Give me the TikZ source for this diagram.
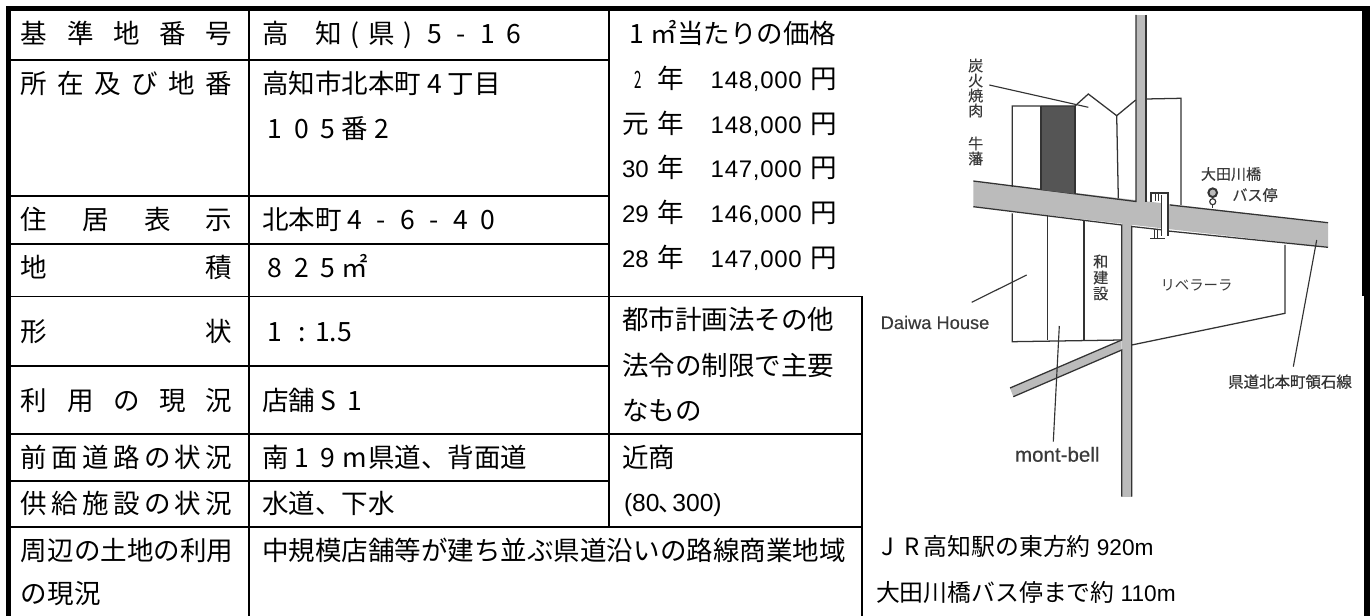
\documentclass[tikz,border=0pt]{standalone}
\usepackage{fontspec}
\setmainfont{Noto Sans CJK JP}
\newfontfamily\latf[LetterSpace=3]{Liberation Sans}
\newfontfamily\latg{Liberation Sans}
\newfontfamily\semij[FakeBold=0.6]{Noto Sans CJK JP}
\newfontfamily\lightbold[FakeBold=0.25]{Noto Sans CJK JP}
\newfontfamily\latbold[FakeBold=0.25]{Liberation Sans}
\newcommand\J{\fontsize{19.9pt}{24pt}\selectfont}
\newcommand\fw[1]{\makebox[1em][c]{#1}}
\newcommand\jdist[1]{\makebox[158.5pt][s]{#1}}
\newcommand\yearbox[1]{\makebox[26.25pt][l]{#1}}
\newcommand\amount[1]{\hspace{20.4pt}\makebox[75pt][l]{\fontsize{18pt}{24pt}\selectfont\latf #1}}
\newcommand\narrowtwo{\hspace{9.5pt}\scalebox{.5}[.9]{2}}
\definecolor{roadgray}{HTML}{BBBBBB}
\definecolor{edgegray}{HTML}{333333}
\definecolor{labelgray}{HTML}{3A3A3A}
\definecolor{darklot}{HTML}{555555}
\tikzset{
  x=0.75pt,y=-0.75pt,
  cell/.style={inner sep=0pt,outer sep=0pt,anchor=base west,font=\J,text=black,yshift=-0.75pt},
  rule/.style={line width=1.3pt,black},
  maptext/.style={inner sep=0pt,outer sep=0pt,anchor=center,text=labelgray,font=\fontsize{11.3pt}{12pt}\selectfont\lightbold,align=center},
  mapline/.style={line width=0.95pt,edgegray},
  leader/.style={line width=0.85pt,edgegray},
  road/.style={fill=roadgray,draw=none},
  noteJ/.style={inner sep=0pt,outer sep=0pt,anchor=base west,text=black,font=\fontsize{17.9pt}{22pt}\selectfont}
}
\begin{document}
\begin{tikzpicture}
\useasboundingbox (0,0) rectangle (1370,616);
\fill[white] (0,0) rectangle (1370,616);
% outer frame
\fill[black] (6,6) rectangle (1370,11);
\fill[black] (6,6) rectangle (11,616);
\fill[black] (1362,6) rectangle (1370,296);
\fill[black] (1364,296) rectangle (1370,616);
% table rules
\draw[rule] (248.7,11) -- (248.7,616);
\draw[rule] (609,11) -- (609,527);
\draw[rule] (861.8,296.5) -- (861.8,616);
\foreach \yy in {60,196,244,366,481} \draw[rule] (11,\yy) -- (609,\yy);
\foreach \yy in {296.5,434,527} \draw[rule] (11,\yy) -- (861.8,\yy);
% first column
\node[cell] (a1) at (21,42.5) {\jdist{基\hfil 準\hfil 地\hfil 番\hfil 号}};
\node[cell] (a2) at (21,92.5) {\jdist{所\hfil 在\hfil 及\hfil び\hfil 地\hfil 番}};
\node[cell] (a3) at (21,229) {\jdist{住\hfil 居\hfil 表\hfil 示}};
\node[cell] (a4) at (21,277) {\jdist{地\hfil 積}};
\node[cell] (a5) at (21,340.5) {\jdist{形\hfil 状}};
\node[cell] (a6) at (21,409) {\jdist{利\hfil 用\hfil の\hfil 現\hfil 況}};
\node[cell] (a7) at (21,466.5) {\jdist{前\hfil 面\hfil 道\hfil 路\hfil の\hfil 状\hfil 況}};
\node[cell] (a8) at (21,512.5) {\jdist{供\hfil 給\hfil 施\hfil 設\hfil の\hfil 状\hfil 況}};
\node[cell] (a9) at (21,559) {\jdist{周\hfil 辺\hfil の\hfil 土\hfil 地\hfil の\hfil 利\hfil 用}};
\node[cell] (a10) at (21,602.5) {の現況};
% second column
\node[cell] (b1) at (262,42.5) {高　知\fw{(}県\fw{)}\fw{5}\fw{-}\fw{1}\fw{6}};
\node[cell] (b2) at (262,92.5) {高知市北本町\fw{4}丁目};
\node[cell] (b2b) at (262,137.5) {\fw{1}\fw{0}\fw{5}番\fw{2}};
\node[cell] (b3) at (262,229) {北本町\fw{4}\fw{-}\fw{6}\fw{-}\fw{4}\fw{0}};
\node[cell] (b4) at (262,277) {\fw{8}\fw{2}\fw{5}㎡};
\node[cell] (b5) at (262,340.5) {\fw{1}\fw{:}1.5};
\node[cell] (b6) at (262,409) {店舗\fw{S}\fw{1}};
\node[cell] (b7) at (262,466.5) {南\fw{1}\fw{9}\fw{m}県道、背面道};
\node[cell] (b8) at (262,512.5) {水道、下水};
\node[cell] (b9) at (262,559) {中規模店舗等が建ち並ぶ県道沿いの路線商業地域};
% third column
\node[cell] (c0) at (624,42.5) {\fw{1}㎡当たりの価格};
\node[cell] (c1) at (622,87.5) {\yearbox{\narrowtwo}年\amount{148,000}円};
\node[cell] (c2) at (622,132.5) {\yearbox{元}年\amount{148,000}円};
\node[cell] (c3) at (622,177) {\yearbox{\fontsize{18pt}{24pt}\selectfont\latg 30}年\amount{147,000}円};
\node[cell] (c4) at (622,222) {\yearbox{\fontsize{18pt}{24pt}\selectfont\latg 29}年\amount{146,000}円};
\node[cell] (c5) at (622,267) {\yearbox{\fontsize{18pt}{24pt}\selectfont\latg 28}年\amount{147,000}円};
\node[cell] (c6) at (622,329) {都市計画法その他};
\node[cell] (c7) at (622,374) {法令の制限で主要};
\node[cell] (c8) at (622,419) {なもの};
\node[cell] (c9) at (622,466.5) {近商};
\node[cell] (c10) at (624,510.5) {\fontsize{18.5pt}{24pt}\selectfont\latg (80\hspace{-1pt}{\fontfamily{\familydefault}\selectfont 、}\hspace{-8pt}300)};
% map: roads
\fill[road] (973.3,181) -- (1328,222.7) -- (1328,247.3) -- (973.3,206.7) -- cycle;
\fill[road] (1135.7,15) rectangle (1146,205);
\fill[road] (1121.7,220) rectangle (1131.7,496.7);
\fill[road] (1010,388) -- (1121.7,340) -- (1121.7,350) -- (1013.3,396.7) -- cycle;
% road edges
\draw[mapline] (973.3,181) -- (1136,201.5) -- (1136,15);
\draw[mapline] (1146,15) -- (1146,202);
\draw[mapline] (1170,205) -- (1328,222.7);
\draw[mapline] (973.3,206.7) -- (1121.7,225) -- (1121.7,340) -- (1010,388);
\draw[mapline] (1013.3,396.7) -- (1121.7,350) -- (1121.7,496.7);
\draw[mapline] (1131.7,496.7) -- (1131.7,226.5) -- (1168,230.5);
\draw[mapline] (1168,231) -- (1328,247.3);
% map: plots north
\fill[darklot] (1041,106) -- (1075,106) -- (1075,194) -- (1041,190) -- cycle;
\draw[mapline] (1012.3,187) -- (1012.3,106) -- (1075,106) -- (1088.3,94) -- (1116.7,115.7) -- (1135.7,100);
\draw[mapline] (1041,106) -- (1041,190);
\draw[mapline] (1075,106) -- (1075,194);
\draw[mapline] (1116.7,115.7) -- (1118.3,198.5);
\draw[mapline] (1146,99) -- (1181,98.3) -- (1181,205);
% map: plots south
\draw[mapline] (1012.3,213.5) -- (1012.3,341.7) -- (1121.7,340);
\draw[mapline] (1047.7,216) -- (1047.7,340);
\draw[mapline] (1084,221.5) -- (1084,340);
\draw[mapline] (1131.7,345) -- (1285,313.3) -- (1285,245);
% bridge
\fill[white] (1161.7,195) rectangle (1166.5,236.7);
\draw[mapline] (1151,202) -- (1151,193) -- (1168,193) -- (1168,236);
\draw[mapline] (1161.5,195) -- (1161.5,236);
\draw[mapline,line width=0.5pt] (1155,193) -- (1155,201) (1158.5,193) -- (1158.5,201);
\draw[mapline] (1150,238.3) -- (1165,238.3);
\draw[mapline,line width=0.6pt] (1154,229) -- (1154,238) (1157.5,229) -- (1157.5,238);
% bus stop
\node[circle,draw=edgegray,line width=1.5pt,fill=roadgray,minimum size=6.5pt,inner sep=0pt] (busA) at (1212.7,192.7) {};
\node[circle,draw=edgegray,line width=0.9pt,fill=white,minimum size=4.5pt,inner sep=0pt] (busB) at (1212.7,201.7) {};
\coordinate (busfoot) at (1212.7,208);
\draw[mapline] (busA) -- (busB) -- (busfoot);
% map labels
\node[maptext] (tan) at (975.7,88) {炭\\[-0.75pt]火\\[-0.75pt]焼\\[-0.75pt]肉};
\node[maptext] (gyu) at (975.7,151) {牛\\[-0.75pt]藩};
\node[maptext] (wa) at (1100.7,277.5) {和\\建\\設};
\node[maptext] (ohta) at (1231,174) {大田川橋};
\node[maptext] (basu) at (1255,195) {バス停};
\node[maptext,font=\fontsize{10.8pt}{12pt}\selectfont] (rib) at (1196.5,285) {リベラーラ};
\node[maptext,font=\fontsize{11.6pt}{12pt}\selectfont\semij,text=edgegray] (ken) at (1290,381.7) {県道北本町領石線};
\node[maptext,anchor=base west,font=\fontsize{13.7pt}{16pt}\selectfont\latbold] (dai) at (880.7,329) {Daiwa House};
\node[maptext,anchor=base west,font=\fontsize{15.4pt}{16pt}\selectfont\latbold] (mont) at (1015,461.7) {mont-bell};
% leaders
\coordinate (l1s) at (989.3,85); \coordinate (l1e) at (1088.3,107.3);
\draw[leader] (l1s) -- (l1e);
\coordinate (l2s) at (1026.7,275); \coordinate (l2e) at (971.7,302.3);
\draw[leader] (l2s) -- (l2e);
\coordinate (l3s) at (1059.3,326); \coordinate (l3e) at (1053.3,441.7);
\draw[leader] (l3s) -- (l3e);
\coordinate (l4s) at (1316.7,240); \coordinate (l4e) at (1293.3,366.7);
\draw[leader] (l4s) -- (l4e);
% bottom note
\node[noteJ] (n1) at (876,555) {\fw{J}\fw{R}高知駅の東方約\hspace{4.5pt}{\fontsize{17pt}{22pt}\selectfont\latg 920m}};
\node[noteJ] (n2) at (876,601) {大田川橋バス停まで約\hspace{4.5pt}{\fontsize{17pt}{22pt}\selectfont\latg 110m}};
\end{tikzpicture}
\end{document}
